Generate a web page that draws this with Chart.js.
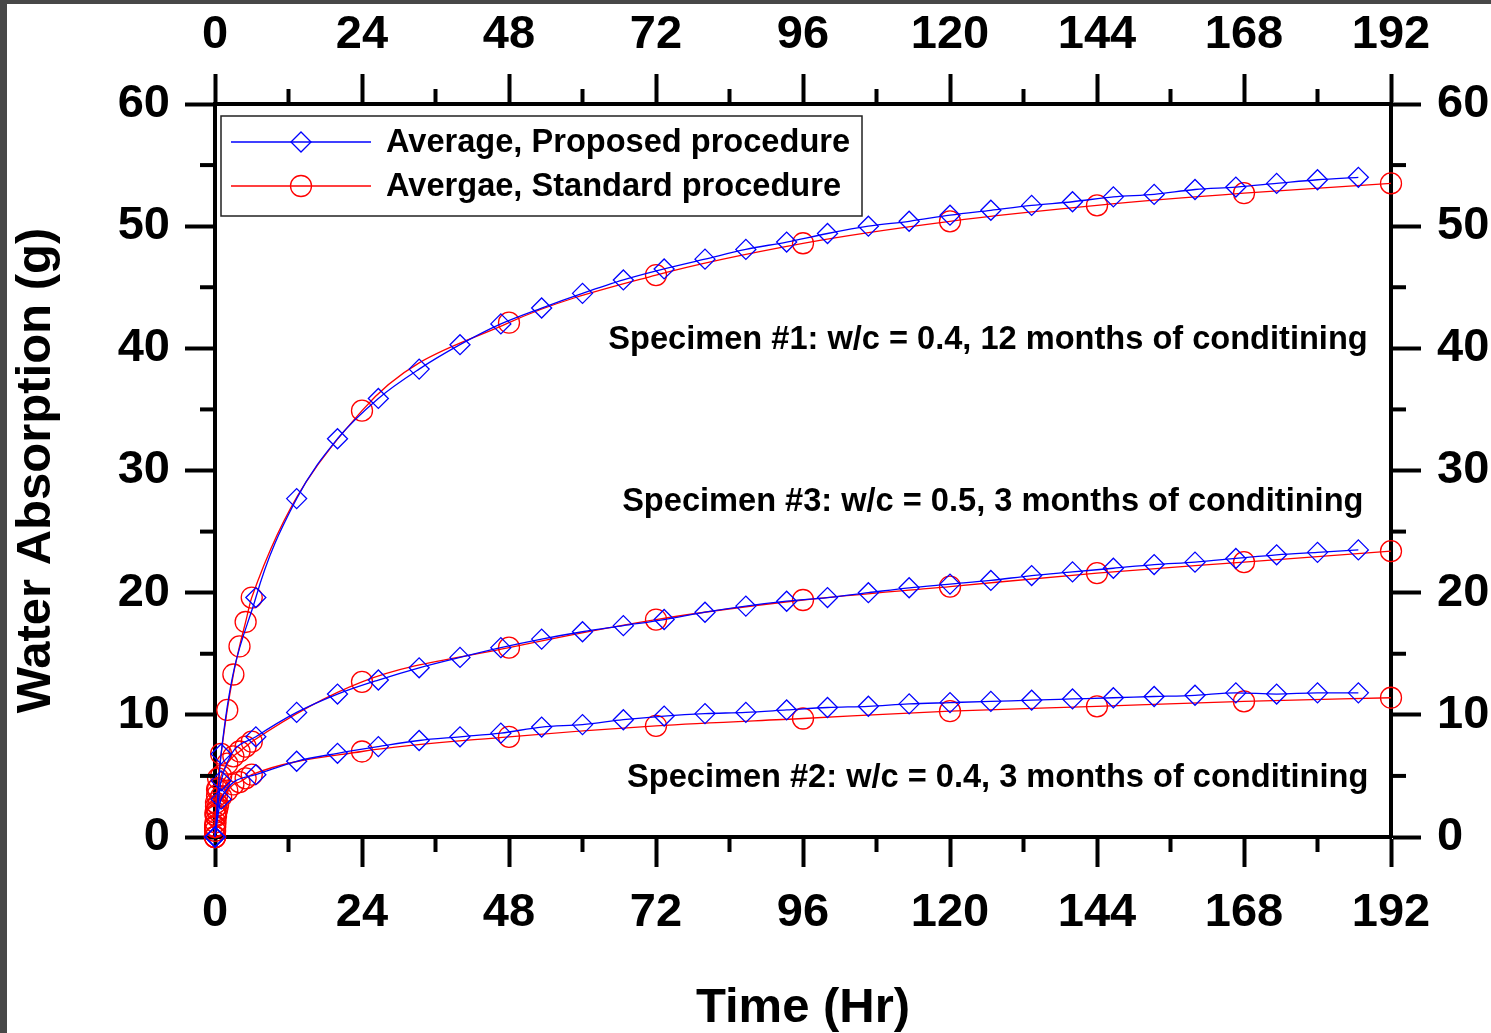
<!DOCTYPE html>
<html>
<head>
<meta charset="utf-8">
<script src="https://cdn.jsdelivr.net/npm/chart.js@4.4.1/dist/chart.umd.min.js"></script>
<style>
  html, body { margin: 0; padding: 0; background: #484848; overflow: hidden; }
  #wrap { position: absolute; left: 7px; top: 4px; width: 1484px; height: 1029px; background: #fff; }
</style>
</head>
<body>
<div id="wrap"><canvas id="absorptionChart" width="1484" height="1029"></canvas></div>
<script>
// measurement times (hours)
var blueTimes = [0, 1, 6.67, 13.33, 20, 26.67, 33.33, 40, 46.67, 53.33, 60, 66.67, 73.33, 80, 86.67,
  93.33, 100, 106.67, 113.33, 120, 126.67, 133.33, 140, 146.67, 153.33, 160, 166.67, 173.33, 180, 186.67];
var redTimes = [0, 0.0167, 0.0833, 0.1667, 0.3333, 0.5, 1, 2, 3, 4, 5, 6, 24, 48, 72, 96, 120, 144, 168, 192];

// Average, Proposed procedure
var proposed1 = [0, 6.8, 19.6, 27.7, 32.6, 35.9, 38.3, 40.3, 42.0, 43.3, 44.5, 45.6, 46.5, 47.3, 48.1,
  48.7, 49.4, 50.0, 50.4, 50.9, 51.3, 51.7, 52.0, 52.4, 52.6, 53.0, 53.2, 53.5, 53.8, 54.0];
var proposed2 = [0, 3.1, 5.1, 6.2, 6.85, 7.4, 7.9, 8.2, 8.5, 9.0, 9.2, 9.6, 9.9, 10.1, 10.2,
  10.4, 10.6, 10.7, 10.9, 11.0, 11.1, 11.2, 11.3, 11.4, 11.5, 11.6, 11.8, 11.7, 11.8, 11.8];
var proposed3 = [0, 4.6, 8.2, 10.2, 11.7, 12.85, 13.85, 14.7, 15.5, 16.2, 16.8, 17.3, 17.8, 18.4, 18.9,
  19.3, 19.6, 20.0, 20.4, 20.7, 21.0, 21.4, 21.7, 22.0, 22.3, 22.5, 22.8, 23.1, 23.3, 23.5];

// Avergae, Standard procedure
var standard1 = [0, 0.9, 2.0, 2.8, 3.9, 4.8, 6.8, 10.4, 13.3, 15.6, 17.6, 19.6, 34.9, 42.1, 46.0, 48.6, 50.4, 51.7, 52.7, 53.5];
var standard2 = [0, 0.5, 1.2, 1.7, 2.2, 2.6, 3.3, 3.8, 4.3, 4.5, 4.8, 5.1, 7.0, 8.2, 9.1, 9.7, 10.3, 10.7, 11.1, 11.4];
var standard3 = [0, 0.8, 1.8, 2.5, 3.4, 4.0, 5.0, 6.0, 6.6, 7.0, 7.4, 7.8, 12.7, 15.5, 17.8, 19.4, 20.5, 21.6, 22.5, 23.4];

var legendLabels = ["Average, Proposed procedure", "Avergae, Standard procedure"];
var notes = [
  { text: "Specimen #1: w/c = 0.4, 12 months of conditining", x: 188.2, y: 40.65 },
  { text: "Specimen #3: w/c = 0.5, 3 months of conditining", x: 187.5, y: 27.45 },
  { text: "Specimen #2: w/c = 0.4, 3 months of conditining", x: 188.3, y: 4.85 }
];

var FONT = "'Liberation Sans', Arial, sans-serif";
var BLUE = "#0000ff";
var RED = "#ff0000";

function pairs(xs, ys) {
  return xs.map(function (x, i) { return { x: x, y: ys[i] }; });
}

function blueSet(values) {
  return {
    data: pairs(blueTimes, values),
    borderColor: BLUE, backgroundColor: "transparent", borderWidth: 1.3,
    pointStyle: "rectRot", pointRadius: 10, pointBorderWidth: 1.3,
    pointBorderColor: BLUE, pointBackgroundColor: "transparent",
    cubicInterpolationMode: "monotone", clip: false
  };
}
function redSet(values) {
  return {
    data: pairs(redTimes, values),
    borderColor: RED, backgroundColor: "transparent", borderWidth: 1.3,
    pointStyle: "circle", pointRadius: 10.5, pointBorderWidth: 1.3,
    pointBorderColor: RED, pointBackgroundColor: "transparent",
    cubicInterpolationMode: "monotone", clip: false
  };
}

function axis(pos, max, step, size, pad, titleText, titlePad) {
  var horizontal = pos === "top" || pos === "bottom";
  return {
    type: "linear", position: pos, min: 0, max: max,
    afterFit: function (s) { if (horizontal) s.height = size; else s.width = size; },
    ticks: {
      stepSize: step, color: "#000", padding: pad,
      font: { family: FONT, size: 47, weight: "bold" }, maxRotation: 0
    },
    grid: {
      display: true, drawOnChartArea: false, drawTicks: true,
      tickLength: 30, tickWidth: 4, tickColor: "#000"
    },
    border: { display: true, width: 4, color: "#000" },
    title: {
      display: !!titleText, text: titleText || "", color: "#000", padding: titlePad || 0,
      font: { family: FONT, size: 49, weight: "bold" }
    }
  };
}

// half-length ticks between the labelled ones, plus legend box and specimen notes
var extras = {
  id: "extras",
  afterDraw: function (chart) {
    var ctx = chart.ctx;
    ctx.save();
    ctx.strokeStyle = "#000";
    ctx.lineWidth = 4;
    Object.keys(chart.scales).forEach(function (id) {
      var s = chart.scales[id];
      var t = s.ticks;
      for (var i = 0; i < t.length - 1; i++) {
        var p = s.getPixelForValue((t[i].value + t[i + 1].value) / 2);
        ctx.beginPath();
        if (s.position === "bottom") { ctx.moveTo(p, s.top); ctx.lineTo(p, s.top + 15); }
        if (s.position === "top") { ctx.moveTo(p, s.bottom); ctx.lineTo(p, s.bottom - 15); }
        if (s.position === "left") { ctx.moveTo(s.right, p); ctx.lineTo(s.right - 15, p); }
        if (s.position === "right") { ctx.moveTo(s.left, p); ctx.lineTo(s.left + 15, p); }
        ctx.stroke();
      }
    });

    // legend
    var a = chart.chartArea;
    var lx = a.left + 6, ly = a.top + 12;
    ctx.lineWidth = 1.5;
    ctx.strokeStyle = "#222";
    ctx.fillStyle = "#fff";
    ctx.fillRect(lx, ly, 641, 100);
    ctx.strokeRect(lx, ly, 641, 100);
    [0, 3].forEach(function (di, row) {
      var ds = chart.data.datasets[di];
      var cy = ly + 26 + row * 44;
      ctx.strokeStyle = ds.borderColor;
      ctx.fillStyle = "rgba(0,0,0,0)";
      ctx.lineWidth = 1.3;
      ctx.beginPath(); ctx.moveTo(lx + 10, cy); ctx.lineTo(lx + 150, cy); ctx.stroke();
      Chart.helpers.drawPoint(ctx, {
        pointStyle: ds.pointStyle, radius: ds.pointRadius, borderWidth: 1.3, rotation: 0
      }, lx + 80, cy);
      ctx.fillStyle = "#000";
      ctx.font = "bold 32.6px " + FONT;
      ctx.textAlign = "left";
      ctx.textBaseline = "middle";
      ctx.fillText(legendLabels[row], lx + 165, cy + 1);
    });

    // specimen labels
    var xs = chart.scales.x, ys = chart.scales.y;
    ctx.fillStyle = "#000";
    ctx.font = "bold 32.6px " + FONT;
    ctx.textAlign = "right";
    ctx.textBaseline = "middle";
    notes.forEach(function (n) {
      ctx.fillText(n.text, xs.getPixelForValue(n.x), ys.getPixelForValue(n.y));
    });
    ctx.restore();
  }
};

var ctx = document.getElementById("absorptionChart").getContext("2d");
var absorptionChart = new Chart(ctx, {
  type: "line",
  data: {
    datasets: [
      blueSet(proposed1), blueSet(proposed2), blueSet(proposed3),
      redSet(standard1), redSet(standard2), redSet(standard3)
    ]
  },
  options: {
    responsive: false,
    animation: false,
    layout: { padding: 0 },
    plugins: { legend: { display: false }, tooltip: { enabled: false } },
    scales: {
      x: axis("bottom", 192, 24, 196, 18, "Time (Hr)", { top: -5, bottom: -5 }),
      x2: axis("top", 192, 24, 100, 11),
      y: axis("left", 60, 10, 208, 15, "Water Absorption (g)"),
      y2: axis("right", 60, 10, 100, 16)
    }
  },
  plugins: [extras]
});
</script>
</body>
</html>
